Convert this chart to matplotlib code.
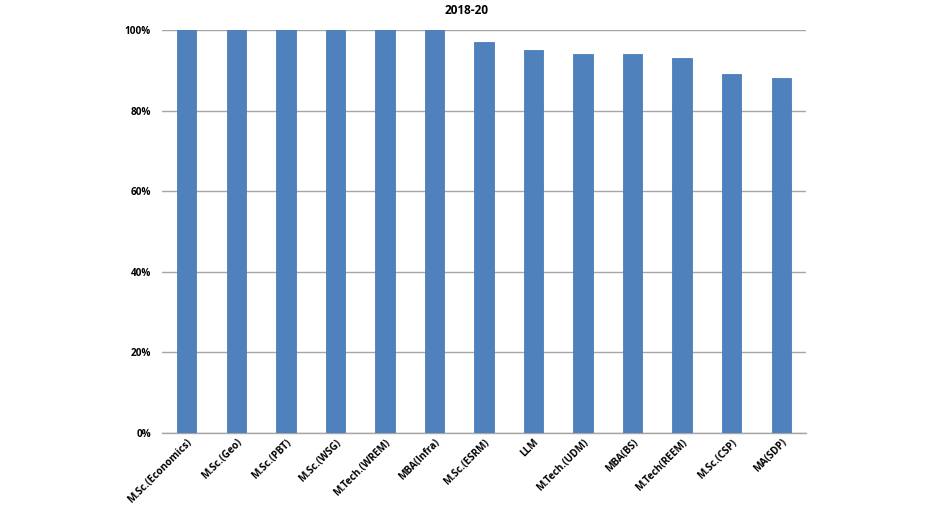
import matplotlib
matplotlib.use("Agg")
import matplotlib.pyplot as plt
from matplotlib.ticker import PercentFormatter

categories = ["M.Sc.(Economics)", "M.Sc.(Geo)", "M.Sc.(PBT)", "M.Sc.(WSG)",
              "M.Tech.(WREM)", "MBA(Infra)", "M.Sc.(ESRM)", "LLM",
              "M.Tech.(UDM)", "MBA(BS)", "M.Tech(REEM)", "M.Sc.(CSP)", "MA(SDP)"]
values = [100, 100, 100, 100, 100, 100, 97, 95, 94, 94, 93, 89, 88]
yticks = [0, 20, 40, 60, 80, 100]

plt.rcParams['font.family'] = ['Open Sans', 'DejaVu Sans']

fig = plt.figure(figsize=(9.53, 5.12), dpi=100)
ax = fig.add_axes([162/953, 1-433/512, (806-162)/953, (433-30)/512])

x = list(range(len(categories)))
ax.bar(x, values, width=0.39, color='#4F81BD', edgecolor='#4A7EBB', linewidth=0.6, zorder=3)

ax.set_xlim(-0.5, len(categories)-0.5)
ax.set_ylim(0, 100)
ax.set_yticks(yticks)
ax.yaxis.set_major_formatter(PercentFormatter(decimals=0))
ax.grid(axis='y', color='#A6A6A6', linewidth=1.0, zorder=0)
ax.set_axisbelow(True)

for s in ['left', 'right', 'top']:
    ax.spines[s].set_visible(False)
ax.spines['bottom'].set_color('#A6A6A6')
ax.spines['bottom'].set_linewidth(1.0)

ax.tick_params(axis='y', length=0, pad=8, labelsize=7.2)
ax.tick_params(axis='x', length=0, pad=3, labelsize=7.2)
ax.set_xticks(x)
ax.set_xticklabels(categories, rotation=45, ha='right', rotation_mode='anchor', fontweight='bold')
for lab in ax.get_yticklabels():
    lab.set_fontweight('bold')

fig.text(467/953, 1-10/512, "2018-20", ha='center', va='center', fontsize=8.5, fontweight='bold')

fig.savefig("out.png", dpi=100)
